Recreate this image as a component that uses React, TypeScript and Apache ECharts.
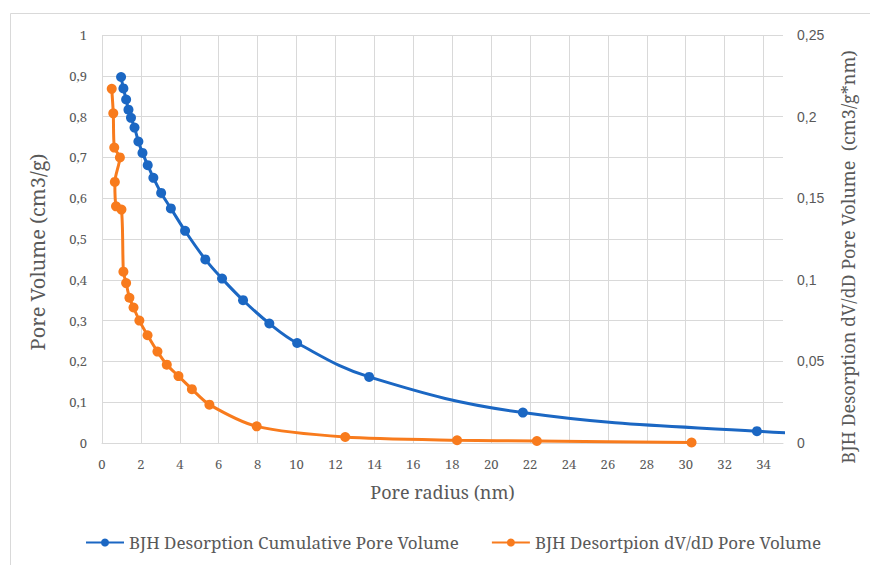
import React, { useEffect, useRef } from "react";
import * as echarts from "echarts";

const cumRadius = [0.98, 1.1, 1.24, 1.36, 1.49, 1.67, 1.87, 2.08, 2.35, 2.64, 3.04, 3.54, 4.27, 5.31, 6.17, 7.25, 8.6, 10.03, 13.73, 21.63, 33.66, 45];
const cumVolume = [0.897, 0.869, 0.842, 0.817, 0.797, 0.773, 0.739, 0.711, 0.681, 0.65, 0.613, 0.575, 0.52, 0.45, 0.403, 0.35, 0.293, 0.245, 0.162, 0.0745, 0.029, 0.008];

const dvRadius = [0.5, 0.58, 0.63, 0.92, 0.66, 0.72, 1.0, 1.1, 1.24, 1.41, 1.62, 1.92, 2.34, 2.85, 3.33, 3.93, 4.62, 5.52, 7.95, 12.5, 18.25, 22.35, 30.3];
const dvValue = [0.217, 0.202, 0.181, 0.175, 0.16, 0.145, 0.143, 0.105, 0.098, 0.089, 0.083, 0.075, 0.066, 0.056, 0.048, 0.041, 0.033, 0.0235, 0.0102, 0.0037, 0.0017, 0.0012, 0.0003];

const seriesNames = ["BJH Desorption Cumulative Pore Volume", "BJH Desortpion dV/dD Pore Volume"];
const axisTitles = ["Pore radius (nm)", "Pore Volume (cm3/g)", "BJH Desorption dV/dD Pore Volume  (cm3/g*nm)"];

const BLUE = "#1b67c3";
const ORANGE = "#f87b1d";
const GRID = "#d9d9d9";
const TEXT = "#595959";
const SERIF = "Noto Serif";
const SANS = "Liberation Sans";

const comma = (v: number) => String(Number(v.toFixed(4))).replace(".", ",");

export default function App() {
  const ref = useRef<HTMLDivElement>(null);
  useEffect(() => {
    document.body.style.margin = "0";
    const chart = echarts.init(ref.current!, null, { renderer: "svg" });
    chart.setOption({
      animation: false,
      backgroundColor: "#ffffff",
      graphic: [
        {
          type: "rect",
          shape: { x: 10.5, y: 13.5, width: 900, height: 600 },
          style: { fill: "none", stroke: GRID, lineWidth: 1 },
          silent: true,
        },
        {
          type: "text",
          x: 37,
          y: 252,
          rotation: Math.PI / 2,
          silent: true,
          style: {
            text: axisTitles[1],
            fontFamily: SERIF,
            fontSize: 20,
            fill: TEXT,
            align: "center",
            verticalAlign: "middle",
          },
        },
        {
          type: "text",
          x: 848,
          y: 257,
          rotation: Math.PI / 2,
          silent: true,
          style: {
            text: axisTitles[2],
            fontFamily: SERIF,
            fontSize: 18,
            fill: TEXT,
            align: "center",
            verticalAlign: "middle",
          },
        },
      ],
      grid: { left: 102, right: 87, top: 35, bottom: 122 },
      legend: {
        bottom: 9,
        left: 80,
        itemGap: 32,
        itemWidth: 38,
        itemHeight: 10,
        textStyle: { fontFamily: SERIF, fontSize: 17, color: TEXT },
        data: seriesNames,
      },
      xAxis: {
        type: "value",
        min: 0,
        max: 35,
        interval: 2,
        name: axisTitles[0],
        nameLocation: "middle",
        nameGap: 40,
        nameTextStyle: { fontFamily: SERIF, fontSize: 18, color: TEXT },
        axisLine: { show: true, lineStyle: { color: GRID, width: 1 } },
        axisTick: { show: false },
        axisLabel: {
          margin: 14,
          fontFamily: SERIF,
          fontSize: 13,
          color: TEXT,
          formatter: (v: number) => (v > 34 ? "" : String(v)),
        },
        splitLine: { show: true, showMaxLine: false, lineStyle: { color: GRID, width: 1 } },
      },
      yAxis: [
        {
          type: "value",
          min: 0,
          max: 1,
          interval: 0.1,
          position: "left",
          axisLine: { show: false },
          axisTick: { show: false },
          axisLabel: { margin: 15, fontFamily: SERIF, fontSize: 13, color: TEXT, formatter: comma },
          splitLine: { show: true, lineStyle: { color: GRID, width: 1 } },
        },
        {
          type: "value",
          min: 0,
          max: 0.25,
          interval: 0.05,
          position: "right",
          axisLine: { show: false },
          axisTick: { show: false },
          axisLabel: { margin: 14, fontFamily: SANS, fontSize: 14, color: TEXT, formatter: comma },
          splitLine: { show: false },
        },
      ],
      series: [
        {
          name: seriesNames[0],
          type: "line",
          yAxisIndex: 0,
          smooth: 0.4,
          symbol: "circle",
          symbolSize: 10,
          clip: true,
          lineStyle: { color: BLUE, width: 3 },
          itemStyle: { color: BLUE },
          data: cumRadius.map((r, i) => [r, cumVolume[i]]),
        },
        {
          name: seriesNames[1],
          type: "line",
          yAxisIndex: 1,
          smooth: 0.25,
          symbol: "circle",
          symbolSize: 10,
          clip: true,
          lineStyle: { color: ORANGE, width: 3 },
          itemStyle: { color: ORANGE },
          data: dvRadius.map((r, i) => [r, dvValue[i]]),
        },
      ],
    });
    return () => chart.dispose();
  }, []);
  return <div ref={ref} style={{ width: 870, height: 565 }} />;
}
